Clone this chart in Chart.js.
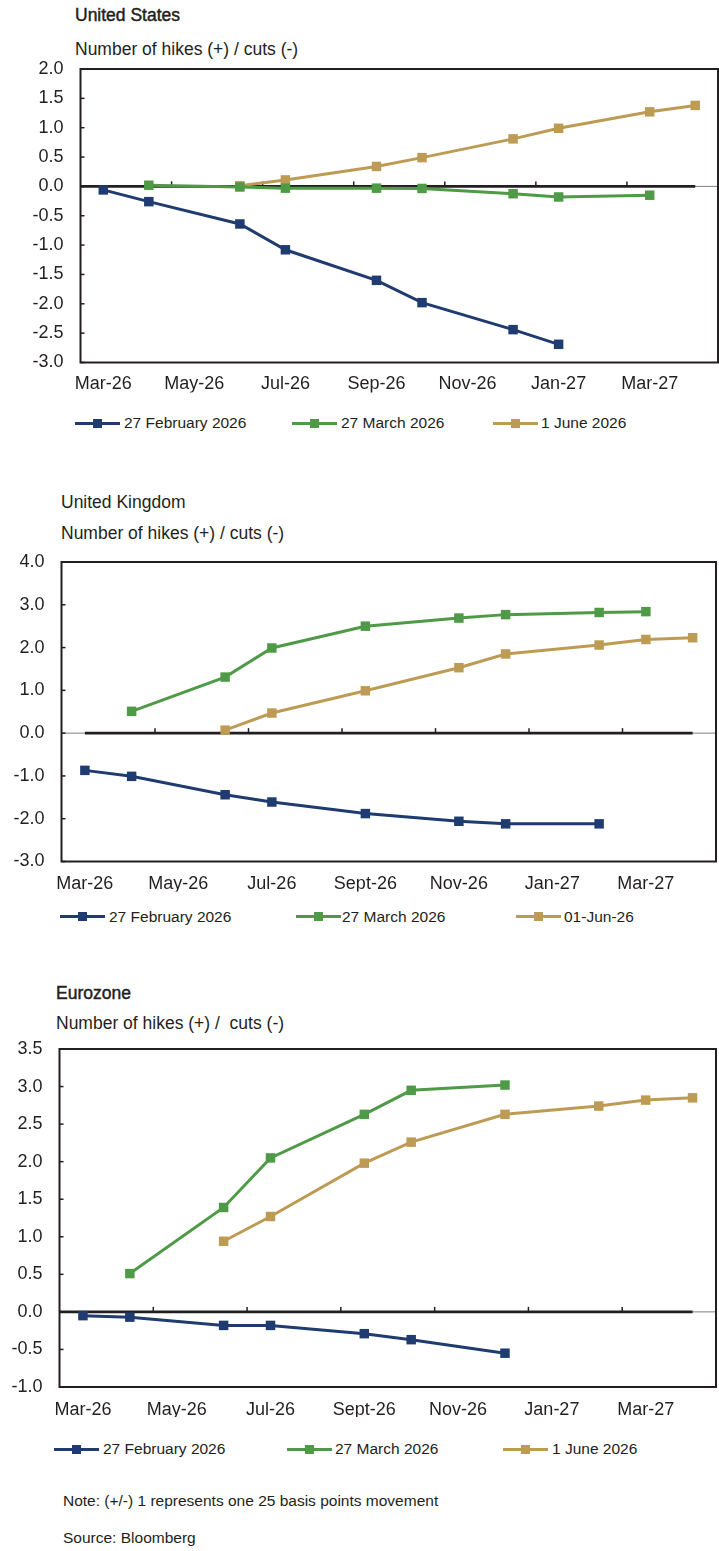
<!DOCTYPE html>
<html>
<head>
<meta charset="utf-8">
<script src="https://cdn.jsdelivr.net/npm/chart.js@4.4.1/dist/chart.umd.min.js"></script>
<style>
  html, body { margin: 0; padding: 0; background: #fff; }
  body { width: 719px; height: 1551px; position: relative; overflow: hidden;
         font-family: "Liberation Sans", Arial, sans-serif; color: #231f20; }
  .t { position: absolute; white-space: pre; line-height: 20px; }
  .title { font-size: 17.5px; }
  .heavy { -webkit-text-stroke: 0.45px #231f20; }
  .ytitle { font-size: 17.5px; }
  .note { font-size: 15.5px; }
  .leg { position: absolute; font-size: 15.5px; line-height: 20px; white-space: pre; }
  .sw { position: absolute; height: 3px; }
  .sq { position: absolute; width: 9px; height: 9px; }
  canvas { position: absolute; left: 0; }
</style>
</head>
<body>
<script>
// Monthly categories (labels shown every second month)
const monthsUS = ['Mar-26','Apr-26','May-26','Jun-26','Jul-26','Aug-26','Sep-26','Oct-26','Nov-26','Dec-26','Jan-27','Feb-27','Mar-27','Apr-27'];
const monthsUK = ['Mar-26','Apr-26','May-26','Jun-26','Jul-26','Aug-26','Sept-26','Oct-26','Nov-26','Dec-26','Jan-27','Feb-27','Mar-27','Apr-27'];
const monthsEZ = ['Mar-26','Apr-26','May-26','Jun-26','Jul-26','Aug-26','Sept-26','Oct-26','Nov-26','Dec-26','Jan-27','Feb-27','Mar-27','Apr-27'];

// Legend names
const namesUS = ['27 February 2026', '27 March 2026', '1 June 2026'];
const namesUK = ['27 February 2026', '27 March 2026', '01-Jun-26'];
const namesEZ = ['27 February 2026', '27 March 2026', '1 June 2026'];

// United States: implied number of hikes (+) / cuts (-) at each meeting
const usFeb = [-0.06, -0.26, null, -0.64, -1.08, null, -1.60, -1.98, null, -2.44, -2.69, null, null, null];
const usMar = [null, 0.02, null, -0.01, -0.03, null, -0.03, -0.035, null, -0.125, -0.18, null, -0.15, null];
const usJun = [null, null, null, 0.01, 0.11, null, 0.34, 0.49, null, 0.81, 0.99, null, 1.27, 1.38];

// United Kingdom
const ukFeb = [-0.87, -1.01, null, -1.44, -1.61, null, -1.88, null, -2.06, -2.12, null, -2.12, null, null];
const ukMar = [null, 0.51, null, 1.31, 1.99, null, 2.50, null, 2.69, 2.77, null, 2.82, 2.84, null];
const ukJun = [null, null, null, 0.07, 0.47, null, 0.99, null, 1.53, 1.85, null, 2.06, 2.19, 2.23];

// Eurozone
const ezFeb = [-0.05, -0.07, null, -0.18, -0.18, null, -0.29, -0.37, null, -0.55, null, null, null, null];
const ezMar = [null, 0.51, null, 1.39, 2.05, null, 2.63, 2.95, null, 3.02, null, null, null, null];
const ezJun = [null, null, null, 0.94, 1.27, null, 1.98, 2.26, null, 2.63, null, 2.74, 2.82, 2.85];

// Y-axis ranges
const usY = { min: -3, max: 2, step: 0.5 };
const ukY = { min: -3, max: 4, step: 1 };
const ezY = { min: -1, max: 3.5, step: 0.5 };

const COLORS = ['#1f3b70', '#4f9a46', '#bd9b55'];
const INK = '#231f20';
const FONT = '"Liberation Sans", Arial, sans-serif';

// Frame, zero axis with category tick marks, and inside y tick marks
const framePlugin = {
  id: 'frame',
  beforeDatasetsDraw(chart, args, opts) {
    const { ctx, chartArea: a, scales: { x, y } } = chart;
    const seg = (x1, y1, x2, y2) => { ctx.beginPath(); ctx.moveTo(x1, y1); ctx.lineTo(x2, y2); ctx.stroke(); };
    const y0 = y.getPixelForValue(0);
    const n = chart.data.labels.length;
    ctx.save();
    ctx.strokeStyle = '#7d7d7d'; ctx.lineWidth = 1;
    seg(a.left, y0, a.right, y0);
    const xs = opts.zeroFromEdge ? a.left : x.getPixelForValue(0);
    const xe = x.getPixelForValue(n - 1);
    ctx.strokeStyle = INK; ctx.lineWidth = 2.7;
    seg(xs, y0, xe, y0);
    ctx.lineWidth = 1.5;
    for (let i = 2; i < n; i += 2) {
      const px = (x.getPixelForValue(i - 1) + x.getPixelForValue(i)) / 2;
      seg(px, y0, px, y0 - 5);
    }
    y.ticks.forEach(t => {
      const py = y.getPixelForValue(t.value);
      seg(a.left, py, a.left + 4, py);
    });
    ctx.lineWidth = 2;
    ctx.strokeRect(a.left, a.top, a.right - a.left, a.bottom - a.top);
    ctx.restore();
  }
};

function addText(cls, text, x, cy, extra) {
  const d = document.createElement('div');
  d.className = 't ' + cls + (extra ? ' ' + extra : '');
  d.textContent = text;
  d.style.left = x + 'px';
  d.style.top = (cy - 10) + 'px';
  document.body.appendChild(d);
}

function addLegend(names, lineX, textX, cy) {
  names.forEach((name, i) => {
    const ln = document.createElement('div');
    ln.className = 'sw';
    ln.style.left = lineX[i] + 'px';
    ln.style.width = '45px';
    ln.style.top = (cy - 1.5) + 'px';
    ln.style.background = COLORS[i];
    document.body.appendChild(ln);
    const sq = document.createElement('div');
    sq.className = 'sq';
    sq.style.left = (lineX[i] + 22.5 - 4.5) + 'px';
    sq.style.top = (cy - 4.5) + 'px';
    sq.style.background = COLORS[i];
    document.body.appendChild(sq);
    const tx = document.createElement('div');
    tx.className = 'leg';
    tx.textContent = name;
    tx.style.left = textX[i] + 'px';
    tx.style.top = (cy - 10) + 'px';
    document.body.appendChild(tx);
  });
}

function panel(o) {
  addText('title', o.title, o.titleX, o.titleY, o.heavy ? 'heavy' : '');
  addText('ytitle', o.ytitle, o.ytitleX, o.ytitleY);
  addLegend(o.names, o.legLineX, o.legTextX, o.legY);

  const p = o.plot;
  const canvasTop = p.top - 40;
  const canvasH = Math.round(o.xLabelY + 20 - canvasTop);
  const xAxisH = 30;
  const cv = document.createElement('canvas');
  cv.width = 719; cv.height = canvasH;
  cv.style.top = canvasTop + 'px';
  cv.style.width = '719px'; cv.style.height = canvasH + 'px';
  document.body.appendChild(cv);

  const lh = 18 * 1.2;
  const want = { top: p.top - canvasTop, bottom: p.bottom - canvasTop, right: p.right };
  let pad = { top: want.top, left: 0, right: 719 - p.right, bottom: canvasH - want.bottom - xAxisH };

  const chart = new Chart(cv.getContext('2d'), {
    type: 'line',
    data: {
      labels: o.months,
      datasets: o.series.map((s, i) => ({
        label: o.names[i],
        data: s,
        borderColor: COLORS[i],
        backgroundColor: COLORS[i],
        borderWidth: 3,
        pointStyle: 'rect',
        pointRadius: 6.7,
        pointBorderWidth: 0,
        pointBackgroundColor: COLORS[i],
        spanGaps: true,
        tension: 0,
        clip: false
      }))
    },
    options: {
      responsive: false,
      animation: false,
      devicePixelRatio: 1,
      layout: { padding: pad, autoPadding: false },
      plugins: { legend: { display: false }, tooltip: { enabled: false }, frame: { zeroFromEdge: o.zeroFromEdge } },
      scales: {
        x: {
          type: 'category',
          offset: true,
          grid: { display: false, drawTicks: false },
          border: { display: false },
          ticks: {
            autoSkip: false, maxRotation: 0, minRotation: 0,
            padding: (o.xLabelY - p.bottom) - lh / 2,
            color: INK,
            font: { family: FONT, size: 18, lineHeight: 1.2 },
            callback: (v, i) => (i % 2 === 0 ? o.months[i] : '')
          },
          afterFit: s => { s.height = xAxisH; }
        },
        y: {
          min: o.y.min, max: o.y.max,
          grid: { display: false, drawTicks: false },
          border: { display: false },
          ticks: {
            stepSize: o.y.step,
            padding: 17,
            color: INK,
            font: { family: FONT, size: 18 },
            callback: v => Number(v).toFixed(1)
          },
          afterFit: s => { s.width = p.left; }
        }
      }
    },
    plugins: [framePlugin]
  });

  // Nudge the layout padding so the plot frame lands on the intended box
  for (let k = 0; k < 2; k++) {
    const a = chart.chartArea;
    pad = {
      top: pad.top + (want.top - a.top),
      left: 0,
      right: pad.right + (a.right - want.right),
      bottom: pad.bottom + (a.bottom - want.bottom)
    };
    chart.options.layout.padding = pad;
    chart.update();
  }
}

panel({
  title: 'United States', heavy: true, titleX: 75, titleY: 15,
  ytitle: 'Number of hikes (+) / cuts (-)', ytitleX: 75, ytitleY: 49,
  months: monthsUS, series: [usFeb, usMar, usJun], names: namesUS, y: usY,
  plot: { left: 80.5, top: 68.5, right: 718, bottom: 362 },
  xLabelY: 384, zeroFromEdge: true,
  legY: 423, legLineX: [75, 292, 493], legTextX: [124, 341, 541]
});

panel({
  title: 'United Kingdom', heavy: false, titleX: 61, titleY: 501.5,
  ytitle: 'Number of hikes (+) / cuts (-)', ytitleX: 61, ytitleY: 533,
  months: monthsUK, series: [ukFeb, ukMar, ukJun], names: namesUK, y: ukY,
  plot: { left: 61.5, top: 561.5, right: 716, bottom: 861 },
  xLabelY: 884, zeroFromEdge: false,
  legY: 916.5, legLineX: [60, 296, 516], legTextX: [109, 342, 564]
});

panel({
  title: 'Eurozone', heavy: true, titleX: 56, titleY: 992.5,
  ytitle: 'Number of hikes (+) /  cuts (-)', ytitleX: 56, ytitleY: 1023,
  months: monthsEZ, series: [ezFeb, ezMar, ezJun], names: namesEZ, y: ezY,
  plot: { left: 59.5, top: 1048.5, right: 716, bottom: 1386.5 },
  xLabelY: 1410, zeroFromEdge: true,
  legY: 1449, legLineX: [54, 287, 503], legTextX: [103, 335, 552]
});

addText('note', 'Note: (+/-) 1 represents one 25 basis points movement', 63, 1500.5);
addText('note', 'Source: Bloomberg', 63, 1538);
</script>
</body>
</html>
